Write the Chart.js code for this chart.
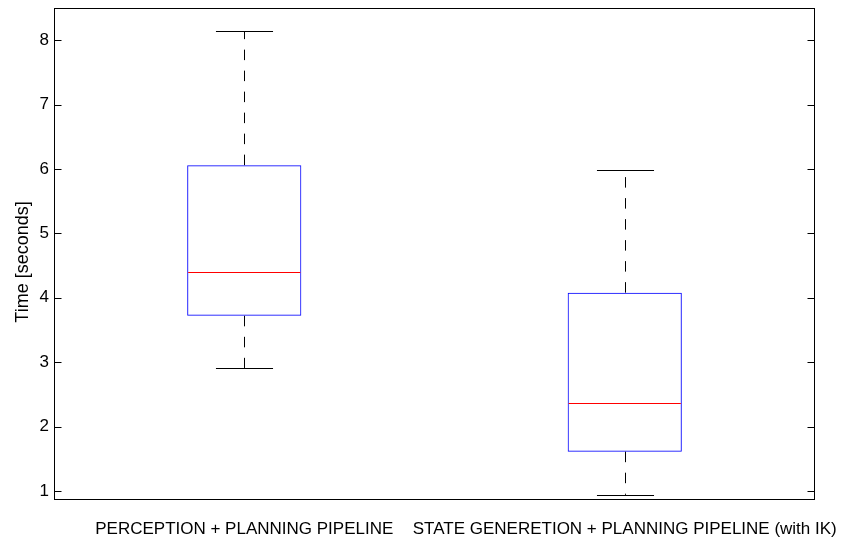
<!DOCTYPE html>
<html><head><meta charset="utf-8">
<script src="https://cdn.jsdelivr.net/npm/chart.js@4/dist/chart.umd.min.js"></script>
<style>html,body{margin:0;padding:0;background:#fff;} #wrap{width:850px;height:542px;position:relative;}</style>
</head><body><div id="wrap"><canvas id="c"></canvas></div>
<script>
const categories = ['PERCEPTION + PLANNING PIPELINE', 'STATE GENERETION + PLANNING PIPELINE (with IK)'];
const lowerWhisker = [2.91, 0.94];
const q1 = [3.72, 1.61];
const median = [4.40, 2.37];
const q3 = [6.06, 4.08];
const upperWhisker = [8.14, 5.98];
const yTicks = [1, 2, 3, 4, 5, 6, 7, 8];
const yMin = 0.86, yMax = 8.5;
const yTitle = 'Time [seconds]';
const FONT = '"Liberation Sans", Arial, Helvetica, sans-serif';

const boxPlugin = {
  id: 'boxExtras',
  afterDatasetsDraw(chart) {
    const ctx = chart.ctx;
    const y = chart.scales.y;
    const meta = chart.getDatasetMeta(0);
    meta.data.forEach((bar, i) => {
      ctx.save();
      const cx = Math.round(bar.x) + 0.5;
      const w = bar.width;
      const pq1 = y.getPixelForValue(q1[i]);
      const pq3 = y.getPixelForValue(q3[i]);
      const plo = y.getPixelForValue(lowerWhisker[i]);
      const phi = y.getPixelForValue(upperWhisker[i]);
      const pmed = y.getPixelForValue(median[i]);
      ctx.strokeStyle = '#000000';
      ctx.lineWidth = 1;
      ctx.setLineDash([10.5, 10.5]);
      ctx.beginPath(); ctx.moveTo(cx, pq3); ctx.lineTo(cx, phi); ctx.stroke();
      ctx.beginPath(); ctx.moveTo(cx, pq1); ctx.lineTo(cx, plo); ctx.stroke();
      ctx.setLineDash([]);
      ctx.beginPath();
      ctx.moveTo(cx - w / 4, Math.round(phi) + 0.5); ctx.lineTo(cx + w / 4, Math.round(phi) + 0.5);
      ctx.moveTo(cx - w / 4, Math.round(plo) + 0.5); ctx.lineTo(cx + w / 4, Math.round(plo) + 0.5);
      ctx.stroke();
      ctx.strokeStyle = '#ff0000';
      ctx.beginPath();
      ctx.moveTo(bar.x - w / 2 + 1, Math.round(pmed) + 0.5); ctx.lineTo(bar.x + w / 2 - 1, Math.round(pmed) + 0.5);
      ctx.stroke();
      ctx.restore();
    });
  },
  afterDraw(chart) {
    const ctx = chart.ctx;
    const a = chart.chartArea;
    const y = chart.scales.y;
    ctx.save();
    ctx.strokeStyle = '#000';
    ctx.lineWidth = 1;
    const L = Math.round(a.left) + 0.5, R = Math.round(a.right) - 0.5;
    const T = Math.round(a.top) + 0.5, B = Math.round(a.bottom) - 0.5;
    ctx.strokeRect(L, T, R - L, B - T);
    ctx.beginPath();
    yTicks.forEach(v => {
      const py = Math.round(y.getPixelForValue(v)) + 0.5;
      ctx.moveTo(L, py); ctx.lineTo(L + 7, py);
      ctx.moveTo(R, py); ctx.lineTo(R - 7, py);
    });
    ctx.stroke();
    ctx.translate(23, 262);
    ctx.rotate(-Math.PI / 2);
    ctx.fillStyle = '#000';
    ctx.font = '18px ' + FONT;
    ctx.textAlign = 'center';
    ctx.textBaseline = 'middle';
    ctx.fillText(yTitle, 0, 0);
    ctx.restore();
  }
};

function zeroPad(s) { s.paddingLeft = 0; s.paddingRight = 0; s.paddingTop = 0; s.paddingBottom = 0; }

new Chart(document.getElementById('c'), {
  type: 'bar',
  data: {
    labels: categories,
    datasets: [{
      data: q1.map((v, i) => [v, q3[i]]),
      backgroundColor: 'rgba(0,0,0,0)',
      borderColor: '#0000ff',
      borderWidth: 1,
      borderSkipped: false,
      barPercentage: 0.3,
      categoryPercentage: 1
    }]
  },
  options: {
    responsive: true,
    maintainAspectRatio: false,
    animation: false,
    layout: { padding: { top: 8, right: 35, left: 0, bottom: 0 } },
    plugins: { legend: { display: false }, tooltip: { enabled: false } },
    scales: {
      x: {
        afterFit: s => { s.height = 42; zeroPad(s); },
        grid: { display: false, drawTicks: false },
        border: { display: false },
        ticks: { color: '#000', font: { family: FONT, size: 17 }, padding: 19, maxRotation: 0, minRotation: 0, autoSkip: false }
      },
      y: {
        min: yMin, max: yMax,
        afterBuildTicks: s => { s.ticks = yTicks.map(v => ({ value: v })); },
        afterFit: s => { s.width = 54; zeroPad(s); },
        grid: { display: false, drawTicks: false },
        border: { display: false },
        ticks: { color: '#000', font: { family: FONT, size: 17 }, padding: 5 }
      }
    }
  },
  plugins: [boxPlugin]
});
</script>
</body></html>
